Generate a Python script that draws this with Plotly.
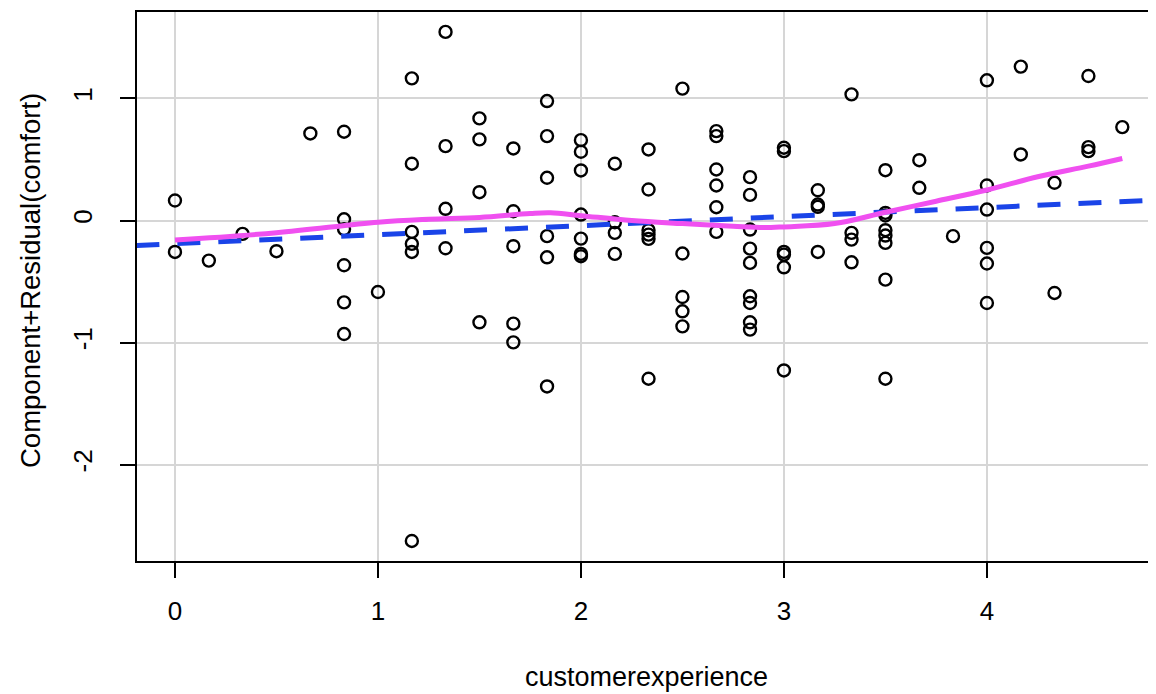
import plotly.graph_objects as go

# ---- data ----
x_vals = [
    0.0, 0.0,
    0.167,
    0.333,
    0.5,
    0.667,
    0.833, 0.833, 0.833, 0.833, 0.833, 0.833,
    1.0,
    1.167, 1.167, 1.167, 1.167, 1.167, 1.167,
    1.333, 1.333, 1.333, 1.333,
    1.5, 1.5, 1.5, 1.5,
    1.667, 1.667, 1.667, 1.667, 1.667,
    1.833, 1.833, 1.833, 1.833, 1.833, 1.833,
    2.0, 2.0, 2.0, 2.0, 2.0, 2.0, 2.0,
    2.167, 2.167, 2.167, 2.167,
    2.333, 2.333, 2.333, 2.333, 2.333, 2.333,
    2.5, 2.5, 2.5, 2.5, 2.5,
    2.667, 2.667, 2.667, 2.667, 2.667, 2.667,
    2.833, 2.833, 2.833, 2.833, 2.833, 2.833, 2.833, 2.833, 2.833,
    3.0, 3.0, 3.0, 3.0, 3.0, 3.0,
    3.167, 3.167, 3.167, 3.167,
    3.333, 3.333, 3.333, 3.333,
    3.5, 3.5, 3.5, 3.5, 3.5, 3.5, 3.5, 3.5,
    3.667, 3.667,
    3.833,
    4.0, 4.0, 4.0, 4.0, 4.0, 4.0,
    4.167, 4.167,
    4.333, 4.333,
    4.5, 4.5, 4.5,
    4.667,
]
y_vals = [
    0.164, -0.257,
    -0.328,
    -0.109,
    -0.251,
    0.713,
    0.727, 0.01, -0.07, -0.366, -0.67, -0.929,
    -0.585,
    1.164, 0.465, -0.093, -0.191, -0.257, -2.623,
    1.544, 0.609, 0.096, -0.227,
    0.836, 0.664, 0.232, -0.833,
    0.59, 0.076, -0.21, -0.844, -0.997,
    0.978, 0.691, 0.35, -0.128, -0.301, -1.358,
    0.658, 0.563, 0.41, 0.049, -0.148, -0.273, -0.292,
    0.465, -0.014, -0.101, -0.273,
    0.582, 0.254, -0.079, -0.115, -0.15, -1.295,
    1.08, -0.27, -0.626, -0.743, -0.866,
    0.732, 0.691, 0.418, 0.287, 0.109, -0.093,
    0.355, 0.21, -0.074, -0.23, -0.347, -0.62, -0.675, -0.833, -0.893,
    0.596, 0.568, -0.257, -0.279, -0.383, -1.227,
    0.248, 0.131, 0.112, -0.257,
    1.033, -0.101, -0.156, -0.342,
    0.412, 0.063, 0.041, -0.079, -0.123, -0.183, -0.484, -1.295,
    0.494, 0.268,
    -0.128,
    1.148, 0.287, 0.09, -0.224, -0.352, -0.675,
    1.26, 0.541,
    0.309, -0.593,
    1.183, 0.601, 0.568,
    0.765,
]

# linear component fit (dashed blue), endpoints
fit_x = [-0.19, 4.85]
fit_y = [-0.204, 0.169]

# loess smooth (magenta)
smooth_x = [0.0, 0.5, 1.0, 1.25, 1.5, 1.75, 1.85, 2.0, 2.25, 2.5, 2.75, 2.9,
            3.0, 3.25, 3.5, 3.75, 4.0, 4.25, 4.5, 4.667]
smooth_y = [-0.16, -0.10, -0.014, 0.01, 0.025, 0.057, 0.063, 0.04, 0.0, -0.025,
            -0.047, -0.058, -0.052, -0.025, 0.068, 0.158, 0.25, 0.358, 0.445, 0.508]

x_ticks = [0, 1, 2, 3, 4]
y_ticks = [-2, -1, 0, 1]

FONT = "Liberation Sans, Arial, Helvetica, sans-serif"

fig = go.Figure()
fig.add_trace(go.Scatter(
    x=x_vals, y=y_vals, mode="markers",
    marker=dict(symbol="circle-open", size=12, color="black",
                line=dict(width=2.4, color="black")),
    showlegend=False, hoverinfo="skip"))
fig.add_trace(go.Scatter(
    x=fit_x, y=fit_y, mode="lines",
    line=dict(color="#1a44e8", width=5, dash="23px,18px"),
    showlegend=False, hoverinfo="skip"))
fig.add_trace(go.Scatter(
    x=smooth_x, y=smooth_y, mode="lines", line_shape="spline",
    line=dict(color="#f050f0", width=5),
    showlegend=False, hoverinfo="skip"))

# page body has an 8px margin: figure is sized/offset so the plot lands
# at the reference's window positions
fig.update_layout(
    width=1148, height=686,
    margin=dict(l=129, r=0, t=4, b=133, pad=0),
    paper_bgcolor="white", plot_bgcolor="white",
    font=dict(family=FONT, size=26, color="black"),
    xaxis=dict(range=[-0.187, 4.833], tickvals=x_ticks, ticktext=[str(v) for v in x_ticks],
               showgrid=True, gridcolor="#d6d6d6", gridwidth=2, zeroline=False,
               showline=True, linecolor="black", linewidth=2, mirror=True,
               ticks="outside", ticklen=15, tickwidth=2, tickcolor="black",
               ticklabelstandoff=11, tickfont=dict(size=26)),
    yaxis=dict(range=[-2.787, 1.707], tickvals=y_ticks, ticktext=[str(v) for v in y_ticks],
               showgrid=True, gridcolor="#d6d6d6", gridwidth=2, zeroline=False,
               showline=True, linecolor="black", linewidth=2, mirror=False,
               ticks="outside", ticklen=15, tickwidth=2, tickcolor="black",
               tickangle=-90, ticklabelstandoff=18, tickfont=dict(size=26)),
    annotations=[
        dict(text="customerexperience", xref="paper", yref="paper",
             x=0.5, y=-0.2113, xanchor="center", yanchor="middle",
             showarrow=False, font=dict(size=27)),
        dict(text="Component+Residual(comfort)", xref="paper", yref="paper",
             x=-0.105, y=0.51, xanchor="center", yanchor="middle", textangle=-90,
             showarrow=False, font=dict(size=27.5)),
    ],
)

fig.write_html("out.html")
